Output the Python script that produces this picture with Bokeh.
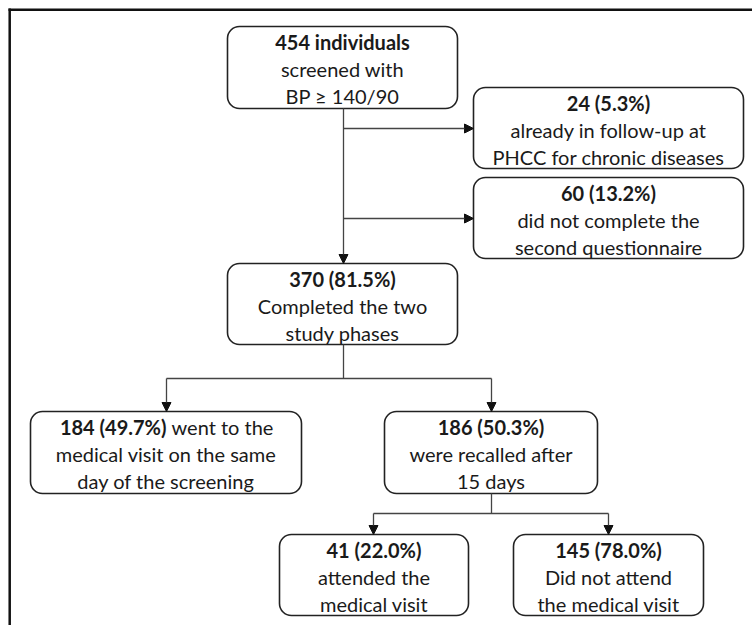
from bokeh.plotting import figure
from bokeh.models import Range1d, Arrow, NormalHead
from bokeh.core.properties import value
from bokeh.embed import file_html
from bokeh.resources import INLINE

# ---- data (flow counts) ----
box_bold = ["454 individuals", "24 (5.3%)", "60 (13.2%)", "370 (81.5%)",
            "184 (49.7%)", "186 (50.3%)", "41 (22.0%)", "145 (78.0%)"]
box_text = [
    ["screened with", "BP \u2265 140/90"],
    ["already in follow-up at", "PHCC for chronic diseases"],
    ["did not complete the", "second questionnaire"],
    ["Completed the two", "study phases"],
    ["went to the", "medical visit on the same", "day of the screening"],
    ["were recalled after", "15 days"],
    ["attended the", "medical visit"],
    ["Did not attend", "the medical visit"],
]

# ---- layout (page pixel coordinates) ----
box_left = [227, 473, 473, 227, 30, 384, 279, 513]
box_right = [457, 743, 743, 457, 301, 597, 468, 703]
box_top = [26, 87, 177, 263, 411, 411, 534, 534]
box_bottom = [108, 168, 258, 344, 493, 493, 615, 615]

FONT = value("Lato")
FS = "20px"
TXT = "#1a1a1a"
LINE = "#444444"

p = figure(width=752, height=625, output_backend="svg", toolbar_location=None,
           x_range=Range1d(0, 752), y_range=Range1d(625, 0),
           min_border=0, outline_line_color=None)
p.axis.visible = False
p.grid.visible = False

# frame (top and left edges only)
p.segment(x0=[8, 9.2], y0=[9.2, 8], x1=[752, 9.2], y1=[9.2, 625],
          line_color="#111111", line_width=2.5)

# boxes
p.quad(left=box_left, right=box_right, top=box_top, bottom=box_bottom,
       fill_color="white", line_color="#222222", line_width=1.6,
       border_radius=12)

# texts
for i in range(len(box_bold)):
    cx = (box_left[i] + box_right[i]) / 2
    y0 = box_top[i] + 15
    if i == 4:
        split = 166
        p.text(x=[split], y=[y0], text=[box_bold[i]], text_align="right",
               text_baseline="middle", text_font=FONT, text_font_size=FS,
               text_font_style="bold", text_color=TXT)
        p.text(x=[split + 5], y=[y0], text=[box_text[i][0]], text_align="left",
               text_baseline="middle", text_font=FONT, text_font_size=FS,
               text_color=TXT)
        rest = box_text[i][1:]
        p.text(x=[cx] * len(rest), y=[y0 + 27 * (k + 1) for k in range(len(rest))],
               text=rest, text_align="center", text_baseline="middle",
               text_font=FONT, text_font_size=FS, text_color=TXT)
    else:
        p.text(x=[cx], y=[y0], text=[box_bold[i]], text_align="center",
               text_baseline="middle", text_font=FONT, text_font_size=FS,
               text_font_style="bold", text_color=TXT)
        rest = box_text[i]
        p.text(x=[cx] * len(rest), y=[y0 + 27 * (k + 1) for k in range(len(rest))],
               text=rest, text_align="center", text_baseline="middle",
               text_font=FONT, text_font_size=FS, text_color=TXT)

# connector lines (no heads)
p.segment(x0=[343, 166, 491, 373], y0=[344, 378, 493, 513],
          x1=[343, 491, 491, 608], y1=[378, 378, 513, 513],
          line_color=LINE, line_width=1.3)

# arrows
arrows = [
    (343, 108, 343, 263),
    (343, 128, 473, 128),
    (343, 218, 473, 218),
    (166, 378, 166, 411),
    (491, 378, 491, 411),
    (373, 513, 373, 534),
    (608, 513, 608, 534),
]
for (xs, ys, xe, ye) in arrows:
    p.add_layout(Arrow(x_start=xs, y_start=ys, x_end=xe, y_end=ye,
                       line_color=LINE, line_width=1.3,
                       end=NormalHead(size=9, fill_color="#111111",
                                      line_color="#111111", line_width=1)))

open("out.html", "w").write(file_html(p, INLINE))
